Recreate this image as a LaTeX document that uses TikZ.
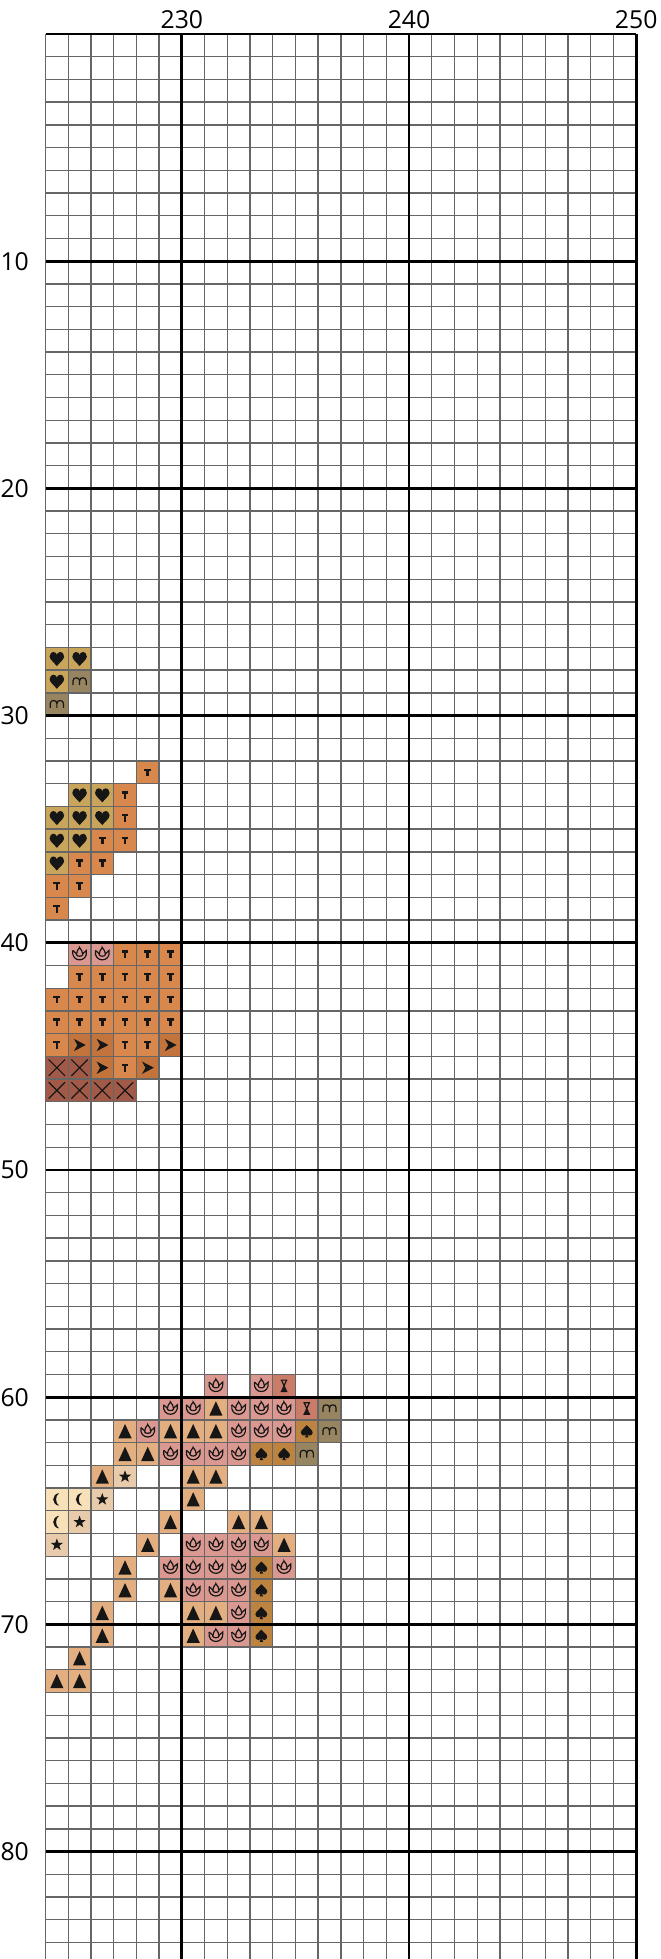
\documentclass[tikz,border=0pt]{standalone}
\usepackage{fontspec}
\setmainfont{Open Sans}
\definecolor{gridgray}{HTML}{666666}
\definecolor{inkblack}{HTML}{161616}
\definecolor{heartgold}{HTML}{C9A55C}
\definecolor{khaki}{HTML}{978460}
\definecolor{rust}{HTML}{D8874D}
\definecolor{darkrust}{HTML}{C3743C}
\definecolor{brick}{HTML}{A15A48}
\definecolor{rose}{HTML}{DA9890}
\definecolor{peach}{HTML}{E3AF80}
\definecolor{sand}{HTML}{E8CBAA}
\definecolor{cream}{HTML}{F8E1B8}
\definecolor{salmon}{HTML}{C97C68}
\definecolor{bronze}{HTML}{BC8440}
\tikzstyle{thinline} = [draw=gridgray, line width=0.85pt]
\tikzstyle{boldline} = [draw=black, line width=1.8pt]
\tikzstyle{numlabel} = [font=\fontsize{15.5}{18}\selectfont, inner sep=0pt]
\tikzstyle{ink} = [fill=inkblack]
\tikzstyle{pen} = [draw=inkblack, line width=0.75pt]
\newcommand{\cellbg}[1]{\fill[#1] (-.5,-.5) rectangle (.5,.5);}
\tikzset{
  heartcell/.pic={\cellbg{heartgold}
    \fill[ink] (0,-.32) .. controls (-.1,-.19) and (-.32,-.03) .. (-.32,.1) .. controls (-.32,.23) and (-.22,.3) .. (-.16,.3) .. controls (-.07,.3) and (0,.23) .. (0,.17) .. controls (0,.23) and (.07,.3) .. (.16,.3) .. controls (.22,.3) and (.32,.23) .. (.32,.1) .. controls (.32,-.03) and (.1,-.19) .. cycle;},
  mcell/.pic={\cellbg{khaki}
    \draw[pen] (-.29,-.16) -- (-.29,.03) .. controls (-.29,.13) and (-.22,.16) .. (-.145,.16) .. controls (-.07,.16) and (0,.13) .. (0,.03) -- (0,-.16);
    \draw[pen] (0,.03) .. controls (0,.13) and (.07,.16) .. (.145,.16) .. controls (.22,.16) and (.29,.13) .. (.29,.03) -- (.29,-.16);},
  tcell/.pic={\cellbg{rust}
    \fill[ink] (-.15,.17) rectangle (.15,.07);
    \fill[ink] (-.055,.07) rectangle (.055,-.17);},
  chevroncell/.pic={\cellbg{darkrust}
    \fill[ink] (-.25,.27) -- (.27,0) -- (-.25,-.27) -- (-.1,0) -- cycle;},
  crosscell/.pic={\cellbg{brick}
    \draw[pen] (-.36,-.36) -- (.36,.36) (-.36,.36) -- (.36,-.36);},
  lotuscell/.pic={\cellbg{rose}
    \begin{scope}[scale=1.15]
    \draw[pen] (-.26,.14) .. controls (-.3,-.1) and (-.15,-.22) .. (0,-.22) .. controls (.15,-.22) and (.3,-.1) .. (.26,.14) .. controls (.2,.08) and (.14,.04) .. (.11,.01);
    \draw[pen] (-.26,.14) .. controls (-.2,.08) and (-.14,.04) .. (-.11,.01);
    \draw[pen] (0,.25) .. controls (-.06,.18) and (-.13,.08) .. (-.12,-.02) .. controls (-.1,-.1) and (.1,-.1) .. (.12,-.02) .. controls (.13,.08) and (.06,.18) .. cycle;
    \end{scope}},
  trianglecell/.pic={\cellbg{peach}
    \fill[ink] (-.29,-.31) -- (.29,-.31) -- (0,.32) -- cycle;},
  starcell/.pic={\cellbg{sand}
    \fill[ink] (90:.28) -- (126:.115) -- (162:.28) -- (198:.115) -- (234:.28) -- (270:.115) -- (306:.28) -- (342:.115) -- (18:.28) -- (54:.115) -- cycle;},
  mooncell/.pic={\cellbg{cream}
    \fill[ink] (.1,.28) .. controls (-.25,.22) and (-.25,-.22) .. (.1,-.28) .. controls (-.08,-.16) and (-.08,.16) .. cycle;},
  hourglasscell/.pic={\cellbg{salmon}
    \draw[pen] (-.15,.25) -- (.15,.25) (-.15,-.25) -- (.15,-.25) (-.11,.25) -- (.11,-.25) (.11,.25) -- (-.11,-.25);
    \fill[ink] (-.09,-.24) -- (.09,-.24) -- (0,-.06) -- cycle;},
  spadecell/.pic={\cellbg{bronze}
    \fill[ink] (0,.27) .. controls (-.08,.14) and (-.26,.07) .. (-.26,-.06) .. controls (-.26,-.15) and (-.18,-.19) .. (-.12,-.19) .. controls (-.06,-.19) and (-.03,-.16) .. (-.02,-.13) -- (-.08,-.27) -- (.08,-.27) -- (.02,-.13) .. controls (.03,-.16) and (.06,-.19) .. (.12,-.19) .. controls (.18,-.19) and (.26,-.15) .. (.26,-.06) .. controls (.26,.07) and (.08,.14) .. cycle;}
}
\begin{document}
\begin{tikzpicture}[x=0.5cm, y=0.5cm]
\useasboundingbox (-2.003,1.496) rectangle (27.08,-84.73);
\foreach \c/\r in {0/27,1/27,0/28,1/33,2/33,0/34,1/34,2/34,0/35,1/35,0/36}
  \pic at (\c+.5,-\r-.5) {heartcell};
\foreach \c/\r in {1/28,0/29,12/60,12/61,11/62}
  \pic at (\c+.5,-\r-.5) {mcell};
\foreach \c/\r in {4/32,3/33,3/34,2/35,3/35,1/36,2/36,0/37,1/37,0/38,3/40,4/40,5/40,
    1/41,2/41,3/41,4/41,5/41,0/42,1/42,2/42,3/42,4/42,5/42,0/43,1/43,2/43,3/43,4/43,5/43,
    0/44,3/44,4/44,3/45}
  \pic at (\c+.5,-\r-.5) {tcell};
\foreach \c/\r in {1/44,2/44,5/44,2/45,4/45}
  \pic at (\c+.5,-\r-.5) {chevroncell};
\foreach \c/\r in {0/45,1/45,0/46,1/46,2/46,3/46}
  \pic at (\c+.5,-\r-.5) {crosscell};
\foreach \c/\r in {1/40,2/40,7/59,9/59,5/60,6/60,8/60,9/60,10/60,4/61,8/61,9/61,10/61,
    5/62,6/62,7/62,8/62,6/66,7/66,8/66,9/66,5/67,6/67,7/67,8/67,10/67,6/68,7/68,8/68,
    8/69,7/70,8/70}
  \pic at (\c+.5,-\r-.5) {lotuscell};
\foreach \c/\r in {7/60,3/61,5/61,6/61,7/61,3/62,4/62,2/63,6/63,7/63,6/64,5/65,8/65,9/65,
    4/66,10/66,3/67,3/68,5/68,2/69,6/69,7/69,2/70,6/70,1/71,0/72,1/72}
  \pic at (\c+.5,-\r-.5) {trianglecell};
\foreach \c/\r in {3/63,2/64,1/65,0/66}
  \pic at (\c+.5,-\r-.5) {starcell};
\foreach \c/\r in {0/64,1/64,0/65}
  \pic at (\c+.5,-\r-.5) {mooncell};
\foreach \c/\r in {10/59,11/60}
  \pic at (\c+.5,-\r-.5) {hourglasscell};
\foreach \c/\r in {11/61,9/62,10/62,9/67,9/68,9/69,9/70}
  \pic at (\c+.5,-\r-.5) {spadecell};
\foreach \r in {1,...,84}
  \draw[thinline] (0,-\r) -- (26,-\r);
\foreach \c in {0,...,25}
  \draw[thinline] (\c,0) -- (\c,-84.73);
\foreach \r in {0,10,...,80}
  \draw[boldline] (0,-\r) -- (26,-\r);
\foreach \c in {6,16,26}
  \draw[boldline] (\c,0) -- (\c,-84.73);
\foreach \n/\c in {230/6,240/16,250/26}
  \node[numlabel, anchor=base] (col\n) at (\c,0.25) {\n};
\foreach \n in {10,20,...,80}
  \node[numlabel, anchor=east] (row\n) at (-0.72,-\n) {\n};
\end{tikzpicture}
\end{document}
